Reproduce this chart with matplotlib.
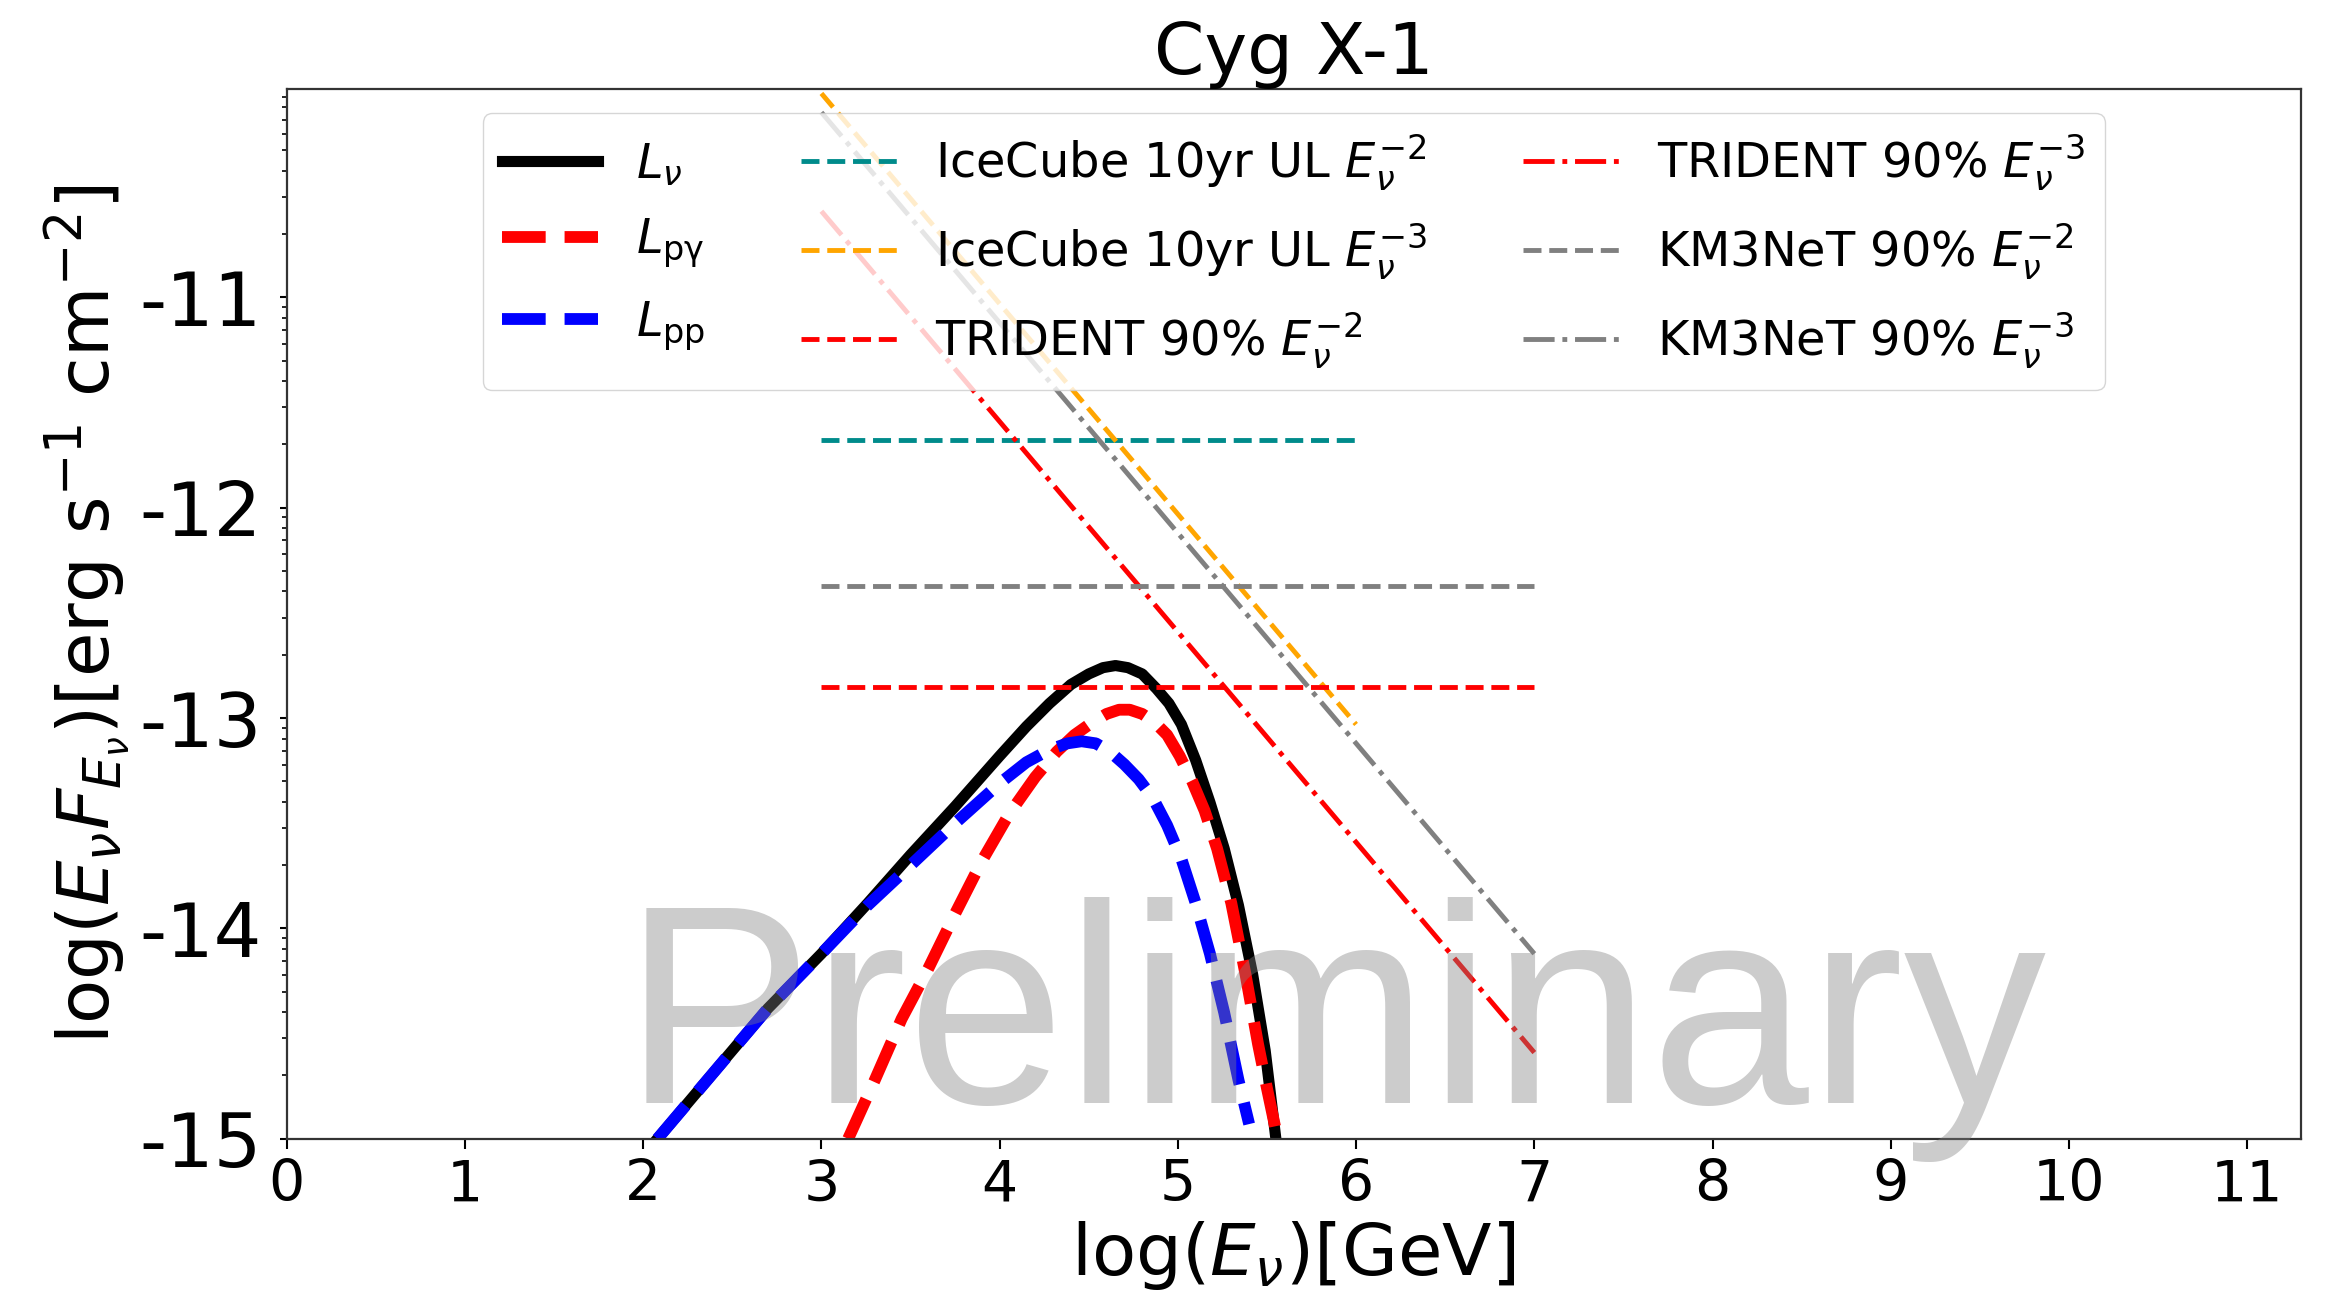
import numpy as np
import matplotlib
matplotlib.use("Agg")
import matplotlib.pyplot as plt
from matplotlib.ticker import FuncFormatter, NullFormatter, LogLocator

# log10(E_nu / GeV) and log10(E^2 F)
x_tot = [2.08, 2.40, 2.70, 3.00, 3.26, 3.50, 3.75, 4.00, 4.15, 4.28, 4.40, 4.50, 4.58,
         4.65, 4.72, 4.80, 4.88, 4.95, 5.02, 5.10, 5.18, 5.26, 5.34, 5.42, 5.49, 5.55]
y_tot = [-15.0, -14.68, -14.38, -14.12, -13.88, -13.65, -13.42, -13.18, -13.04, -12.93, -12.84, -12.79, -12.76,
         -12.75, -12.76, -12.79, -12.86, -12.93, -13.03, -13.20, -13.40, -13.62, -13.89, -14.22, -14.58, -15.0]

x_pg = [3.15, 3.30, 3.45, 3.60, 3.75, 3.90, 4.05, 4.20, 4.32, 4.42, 4.52, 4.60, 4.67,
        4.73, 4.80, 4.87, 4.94, 5.01, 5.08, 5.15, 5.22, 5.30, 5.38, 5.45, 5.50, 5.56]
y_pg = [-15.0, -14.72, -14.43, -14.19, -13.93, -13.68, -13.46, -13.28, -13.16, -13.08, -13.02, -12.98, -12.96,
        -12.96, -12.98, -13.02, -13.08, -13.18, -13.30, -13.44, -13.62, -13.88, -14.22, -14.55, -14.76, -15.0]

x_pp = [2.08, 2.40, 2.70, 3.00, 3.26, 3.50, 3.75, 4.00, 4.15, 4.28, 4.38, 4.46,
        4.54, 4.62, 4.70, 4.78, 4.86, 4.94, 5.02, 5.10, 5.18, 5.26, 5.34, 5.40]
y_pp = [-15.0, -14.68, -14.38, -14.12, -13.89, -13.70, -13.50, -13.31, -13.21, -13.15, -13.12, -13.11,
        -13.12, -13.16, -13.22, -13.29, -13.38, -13.51, -13.67, -13.88, -14.12, -14.40, -14.72, -14.93]

# sensitivity / upper limit lines (start, end)
icecube_e2_x = [3, 6]
icecube_e2_y = [-11.68, -11.68]
icecube_e3_x = [3, 6]
icecube_e3_y = [-10.03, -13.03]
trident_e2_x = [3, 7]
trident_e2_y = [-12.85, -12.85]
trident_e3_x = [3, 7]
trident_e3_y = [-10.59, -14.59]
km3net_e2_x = [3, 7]
km3net_e2_y = [-12.37, -12.37]
km3net_e3_x = [3, 7]
km3net_e3_y = [-10.12, -14.12]

y_major = [-15, -14, -13, -12, -11]


def p(v):
    return 10.0 ** np.asarray(v, dtype=float)


fig = plt.figure(figsize=(23.31, 13.12), dpi=100)
ax = fig.add_axes([0.123, 0.132, 0.864, 0.800])

ax.plot(x_tot, p(y_tot), color='black', lw=8, label=r'$L_{\nu}$')
ax.plot(x_pg, p(y_pg), color='red', lw=8.5, ls='--', label=r'$L_{\rm p\gamma}$')
ax.plot(x_pp, p(y_pp), color='blue', lw=8.5, ls='--', label=r'$L_{\rm pp}$')

ax.plot(icecube_e2_x, p(icecube_e2_y), color='darkcyan', lw=3.5, ls='--',
        label=r'IceCube 10yr UL $E_{\nu}^{-2}$')
ax.plot(icecube_e3_x, p(icecube_e3_y), color='orange', lw=3.5, ls='--',
        label=r'IceCube 10yr UL $E_{\nu}^{-3}$')
ax.plot(trident_e2_x, p(trident_e2_y), color='red', lw=3.5, ls='--',
        label=r'TRIDENT 90% $E_{\nu}^{-2}$')
ax.plot(trident_e3_x, p(trident_e3_y), color='red', lw=3.5, ls='-.',
        label=r'TRIDENT 90% $E_{\nu}^{-3}$')
ax.plot(km3net_e2_x, p(km3net_e2_y), color='gray', lw=3.5, ls='--',
        label=r'KM3NeT 90% $E_{\nu}^{-2}$')
ax.plot(km3net_e3_x, p(km3net_e3_y), color='gray', lw=3.5, ls='-.',
        label=r'KM3NeT 90% $E_{\nu}^{-3}$')

ax.set_yscale('log')
ax.set_xlim(0, 11.3)
ax.set_ylim(1e-15, 10 ** -10.01)
ax.set_xticks(range(0, 12))
ax.set_yticks(p(y_major))
ax.yaxis.set_major_formatter(FuncFormatter(lambda v, pos: f"{np.log10(v):.0f}"))
ax.yaxis.set_minor_locator(LogLocator(base=10, subs=np.arange(2, 10), numticks=20))
ax.yaxis.set_minor_formatter(NullFormatter())

ax.tick_params(axis='x', which='major', labelsize=41, length=7, width=1.5, pad=7)
ax.tick_params(axis='y', which='major', labelsize=54, length=5, width=1.5, pad=13)
ax.tick_params(axis='y', which='minor', length=3.5, width=1.2)
for s in ax.spines.values():
    s.set_linewidth(1.6)
    s.set_color('#333333')

ax.set_xlabel(r'log($E_{\nu}$)[GeV]', fontsize=52)
ax.set_ylabel(r'log($E_{\nu}F_{E_{\nu}}$)[erg s$^{-1}$ cm$^{-2}$]', fontsize=52)
ax.set_title('Cyg X-1', fontsize=52, pad=2)

ax.legend(loc='upper center', ncol=3, fontsize=34.5, handlelength=2.0,
          columnspacing=2.0, handletextpad=0.8, labelspacing=0.6)

ax.text(5.88, 10 ** -14.83, 'Preliminary', fontsize=205, family='Liberation Sans',
        color='gray', alpha=0.4, ha='center', va='baseline', zorder=10)

fig.savefig('out.png', dpi=100)
